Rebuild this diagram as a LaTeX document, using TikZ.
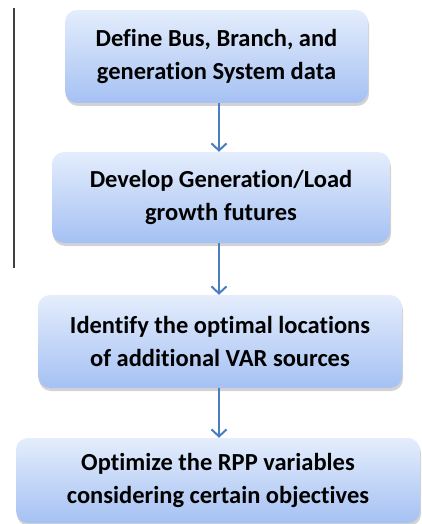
\documentclass[tikz,border=0pt]{standalone}
\usepackage{fontspec}
\setmainfont{Carlito}[Ligatures=NoCommon]
\usetikzlibrary{arrows.meta,shadows}

\definecolor{boxtop}{HTML}{E4EDFC}
\definecolor{boxbottom}{HTML}{A5C1F3}
\definecolor{flowline}{HTML}{4A7EC0}

\begin{document}
\begin{tikzpicture}[x=1pt,y=1pt,
    stage/.style={rounded corners=12pt,top color=boxtop,bottom color=boxbottom,
      drop shadow={shadow xshift=1pt,shadow yshift=-3pt,opacity=0.35},
      align=center,font=\fontsize{24.5}{33}\selectfont\bfseries,inner sep=0pt},
    flow/.style={draw=flowline,line width=2pt,-{Straight Barb[length=7pt,width=15pt,line width=2pt]}}]
			\useasboundingbox (0,0) rectangle (422,-524);

			% side rule
			\coordinate (ruletop) at (14,-8);
			\coordinate (rulebot) at (14,-268);
			\draw[line width=1.3pt,black!75] (ruletop) -- (rulebot);

			% stages
			\node[stage,minimum width=303,minimum height=93] (define) at (216.5,-56.5)
				{Define Bus, Branch, and\\generation System data};
			\node[stage,minimum width=338,minimum height=91] (develop) at (221,-197.5)
				{Develop Generation/Load\\growth futures};
			\node[stage,minimum width=364,minimum height=93] (identify) at (220,-341.5)
				{Identify the optimal locations\\of additional VAR sources};
			\node[stage,minimum width=404,minimum height=85] (optimize) at (218,-480.5)
				{Optimize the RPP variables\\considering certain objectives};

			% arrows
			\draw[flow] (define.south -| 219,0) -- (develop.north -| 219,0);
			\draw[flow] (develop.south -| 219,0) -- (identify.north -| 219,0);
			\draw[flow] (identify.south -| 219,0) -- (optimize.north -| 219,0);
\end{tikzpicture}
\end{document}
